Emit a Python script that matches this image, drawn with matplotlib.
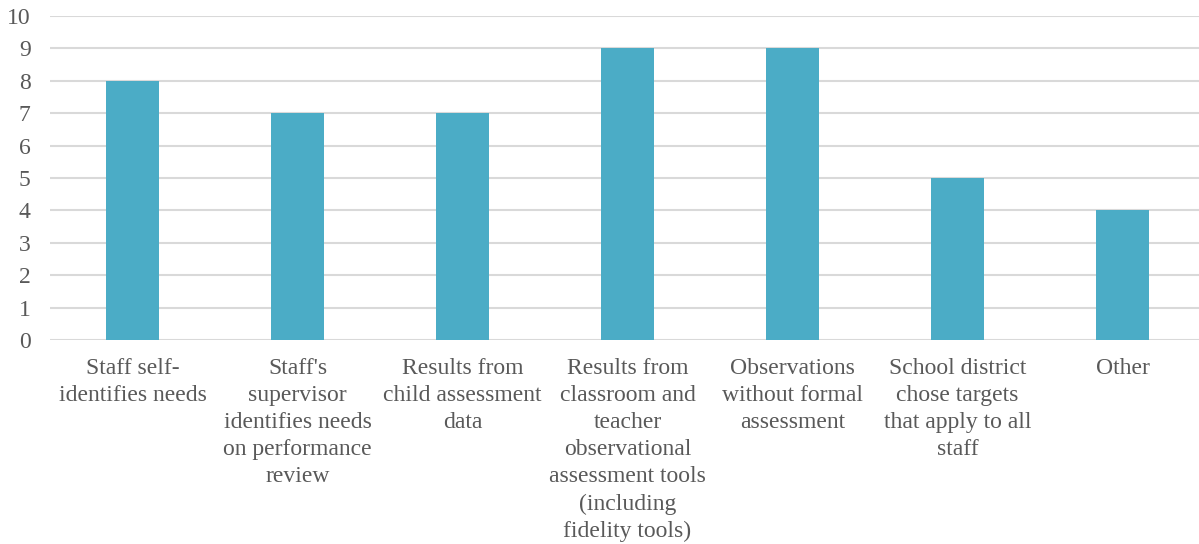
import matplotlib.pyplot as plt
import numpy as np

categories = [
    "Staff self-\nidentifies needs",
    "Staff's\nsupervisor\nidentifies needs\non performance\nreview",
    "Results from\nchild assessment\ndata",
    "Results from\nclassroom and\nteacher\nobservational\nassessment tools\n(including\nfidelity tools)",
    "Observations\nwithout formal\nassessment",
    "School district\nchose targets\nthat apply to all\nstaff",
    "Other",
]
counts = [8, 7, 7, 9, 9, 5, 4]
yticks = list(range(0, 11))

plt.rcParams['font.family'] = ['Liberation Serif', 'DejaVu Serif']

fig = plt.figure(figsize=(11.99, 5.44), dpi=100)
ax = fig.add_axes([50 / 1199, 204 / 544, 1155 / 1199, 324 / 544])

x = np.arange(len(categories))
ax.bar(x, counts, width=0.32, color='#4BACC6', zorder=3)

ax.set_xlim(-0.5, len(categories) - 0.5)
ax.set_ylim(0, 10)
ax.set_yticks(yticks)
ax.yaxis.grid(True, color='#d9d9d9', linewidth=1.5, zorder=0)
ax.set_xticks(x)
ax.set_xticklabels(categories, fontsize=17, color='#595959', linespacing=1.38)
ax.tick_params(axis='y', labelsize=17, labelcolor='#595959', length=0, pad=14)
ax.tick_params(axis='x', length=0, pad=13)
for s in ax.spines.values():
    s.set_visible(False)

fig.savefig('out.png', dpi=100)
